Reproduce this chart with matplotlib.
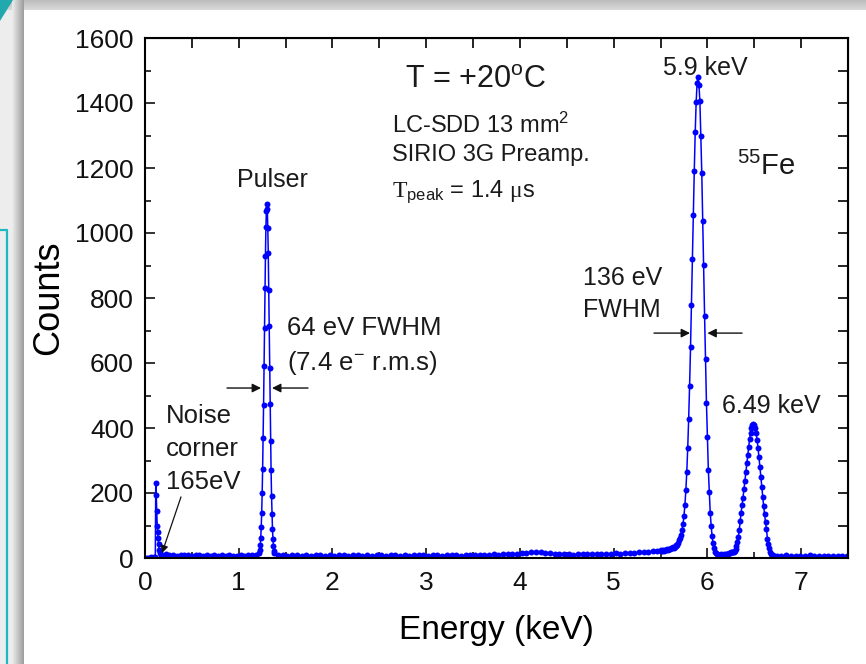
import numpy as np
import matplotlib
matplotlib.use("Agg")
import matplotlib.pyplot as plt
from matplotlib.patches import Rectangle, Polygon
from matplotlib.ticker import MultipleLocator

plt.rcParams['font.family'] = ['Liberation Sans', 'DejaVu Sans']
plt.rcParams['mathtext.fontset'] = 'custom'
plt.rcParams['mathtext.rm'] = 'Liberation Sans'
plt.rcParams['mathtext.it'] = 'Liberation Sans:italic'
plt.rcParams['mathtext.tt'] = 'Liberation Serif'

# --- spectrum (energy in keV, counts) ---
# noise corner
noise_e = [0.00, 0.02, 0.04, 0.06, 0.08, 0.10, 0.11, 0.115, 0.12, 0.125, 0.13,
           0.135, 0.14, 0.145, 0.15, 0.16, 0.17]
noise_c = [0, 1, 0, 2, 1, 3, 4, 230, 195, 145, 100, 80, 62, 42, 25, 14, 10]

# flat part before the pulser
base1_e = [0.18, 0.22, 0.26, 0.30, 0.34, 0.38, 0.42, 0.46, 0.50, 0.54, 0.58,
           0.62, 0.66, 0.70, 0.74, 0.78, 0.82, 0.86, 0.90, 0.94, 0.98, 1.02,
           1.06, 1.10, 1.14, 1.18]
base1_c = [9, 11, 8, 10, 7, 9, 8, 10, 6, 9, 8, 7, 9, 6, 8, 7, 9, 6, 8, 7, 6,
           8, 7, 9, 8, 10]

# pulser peak
pulser_e = [1.22, 1.225, 1.23, 1.235, 1.24, 1.245, 1.25, 1.255, 1.26, 1.265,
            1.27, 1.275, 1.28, 1.285, 1.29, 1.295, 1.30, 1.305, 1.31, 1.315,
            1.32, 1.325, 1.33, 1.335, 1.34, 1.345, 1.35, 1.355, 1.36, 1.365,
            1.37, 1.375, 1.38]
pulser_c = [14, 24, 40, 62, 95, 140, 200, 275, 368, 470, 592, 708, 830, 930,
            1020, 1068, 1090, 1074, 1015, 938, 825, 715, 585, 475, 360, 270,
            192, 135, 90, 58, 38, 22, 14]

# flat part between pulser and Mn K-alpha
base2_e = [1.42, 1.47, 1.52, 1.57, 1.62, 1.67, 1.72, 1.77, 1.82, 1.87, 1.92,
           1.97, 2.02, 2.07, 2.12, 2.17, 2.22, 2.27, 2.32, 2.37, 2.42, 2.47,
           2.52, 2.57, 2.62, 2.67, 2.72, 2.77, 2.82, 2.87, 2.92, 2.97, 3.02,
           3.07, 3.12, 3.17, 3.22, 3.27, 3.32, 3.37, 3.42, 3.47, 3.52, 3.57,
           3.62, 3.67, 3.72, 3.77, 3.82, 3.87, 3.92, 3.97, 4.02, 4.07, 4.12,
           4.17, 4.22, 4.27, 4.32, 4.37, 4.42, 4.47, 4.52, 4.57, 4.62, 4.67,
           4.72, 4.77, 4.82, 4.87, 4.92, 4.97, 5.02, 5.07, 5.12, 5.17, 5.22,
           5.27, 5.32, 5.37, 5.42, 5.46]
base2_c = [8, 10, 7, 9, 8, 6, 9, 7, 10, 8, 7, 9, 6, 8, 10, 7, 9, 8, 6, 9, 7,
           8, 10, 7, 8, 9, 6, 8, 7, 10, 8, 9, 7, 8, 9, 7, 10, 8, 9, 7, 8, 10,
           9, 8, 10, 9, 11, 10, 12, 11, 13, 12, 14, 16, 18, 17, 19, 16, 15,
           13, 12, 11, 12, 10, 11, 12, 11, 13, 12, 11, 13, 12, 14, 13, 15, 14,
           16, 17, 18, 19, 21, 22]

# Mn K-alpha 5.9 keV
mnka_e = [5.50, 5.51, 5.52, 5.53, 5.54, 5.55, 5.56, 5.57, 5.58, 5.59, 5.60,
          5.61, 5.62, 5.63, 5.64, 5.65, 5.66, 5.67, 5.68, 5.69, 5.70, 5.71,
          5.72, 5.73, 5.74, 5.75, 5.76, 5.77, 5.78, 5.79, 5.80, 5.81, 5.82,
          5.83, 5.84, 5.85, 5.86, 5.87, 5.88, 5.89, 5.90, 5.91, 5.92, 5.93,
          5.94, 5.95, 5.96, 5.97, 5.98, 5.99, 6.00, 6.01, 6.02, 6.03, 6.04,
          6.05, 6.06, 6.07, 6.08, 6.09, 6.10, 6.11, 6.12]
mnka_c = [22, 24, 21, 25, 23, 26, 24, 27, 26, 29, 28, 31, 30, 33, 31, 34, 36,
          39, 41, 45, 54, 62, 72, 87, 105, 130, 163, 208, 265, 338, 427, 530,
          648, 780, 920, 1056, 1192, 1310, 1402, 1462, 1480, 1455, 1405, 1300,
          1185, 1036, 902, 745, 612, 476, 372, 272, 204, 140, 100, 67, 45, 30,
          20, 15, 12, 10, 9]

# valley
valley_e = [6.13, 6.14, 6.15, 6.16, 6.17, 6.18, 6.19, 6.20, 6.21, 6.22, 6.23,
            6.24, 6.25, 6.26, 6.27]
valley_c = [9, 11, 8, 10, 9, 11, 10, 12, 11, 13, 14, 16, 18, 19, 20]

# Mn K-beta 6.49 keV
mnkb_e = [6.28, 6.29, 6.30, 6.31, 6.32, 6.33, 6.34, 6.35, 6.36, 6.37, 6.38,
          6.39, 6.40, 6.41, 6.42, 6.43, 6.44, 6.45, 6.46, 6.47, 6.48, 6.49,
          6.50, 6.51, 6.52, 6.53, 6.54, 6.55, 6.56, 6.57, 6.58, 6.59, 6.60,
          6.61, 6.62, 6.63, 6.64, 6.65, 6.66, 6.67, 6.68, 6.69, 6.70]
mnkb_c = [18, 22, 28, 38, 50, 66, 85, 115, 140, 162, 186, 212, 238, 265, 292,
          318, 343, 366, 385, 400, 410, 412, 409, 399, 384, 364, 339, 311, 281,
          250, 219, 189, 160, 134, 110, 89, 60, 42, 30, 20, 13, 9, 8]

# flat tail to the end
base3_e = [6.74, 6.79, 6.84, 6.89, 6.94, 6.99, 7.04, 7.09, 7.14, 7.19, 7.24,
           7.29, 7.34, 7.39, 7.44, 7.49]
base3_c = [7, 5, 8, 6, 7, 5, 6, 8, 5, 7, 6, 5, 7, 6, 5, 6]

energy = np.array(noise_e + base1_e + pulser_e + base2_e + mnka_e + valley_e
                  + mnkb_e + base3_e)
counts = np.array(noise_c + base1_c + pulser_c + base2_c + mnka_c + valley_c
                  + mnkb_c + base3_c)

fig = plt.figure(figsize=(8.66, 6.64), dpi=100)

# slide background behind the white panel
bg = fig.add_axes([0, 0, 1, 1])
bg.set_xlim(0, 866)
bg.set_ylim(664, 0)
bg.axis('off')
bg.add_patch(Rectangle((0, 0), 866, 664, color='#ededed', lw=0))
for i in range(10):
    g = 0.74 + 0.012 * i
    bg.add_patch(Rectangle((0, i), 866, 1, color=(g, g, g), lw=0))
for i in range(12):
    g = 0.92 - 0.027 * i
    bg.add_patch(Rectangle((12 + i, 0), 1, 664, color=(g, g, g), lw=0))
bg.add_patch(Polygon([[0, 0], [13, 0], [0, 21]], color='#22a9ad', lw=0))
bg.plot([0, 7, 7], [230, 230, 664], color='#1fb8c2', lw=1.6)
bg.add_patch(Rectangle((24, 10), 842, 654, color='white', lw=0))

ax = fig.add_axes([145 / 866, 106 / 664, 703 / 866, 520 / 664])
ax.plot(energy, counts, '-o', color='#0000ff', lw=1.1, ms=4.3, mew=0)

ax.set_xlim(0, 7.5)
ax.set_ylim(0, 1600)
ax.xaxis.set_major_locator(MultipleLocator(1))
ax.xaxis.set_minor_locator(MultipleLocator(0.5))
ax.yaxis.set_major_locator(MultipleLocator(200))
ax.yaxis.set_minor_locator(MultipleLocator(100))
ax.tick_params(which='both', direction='in', width=1.2, colors='#111111')
ax.tick_params(which='major', length=7.5, labelsize=19)
ax.tick_params(which='minor', length=4.3)
ax.tick_params(axis='x', pad=9)
ax.tick_params(axis='y', pad=8)
for s in ax.spines.values():
    s.set_linewidth(1.5)

# top / right ticks, all the same length
top = ax.secondary_xaxis('top')
top.xaxis.set_major_locator(MultipleLocator(0.5))
top.tick_params(direction='in', length=7, width=1.2, labeltop=False)
right = ax.secondary_yaxis('right')
right.yaxis.set_major_locator(MultipleLocator(100))
right.tick_params(direction='in', length=7, width=1.2, labelright=False)

ax.set_xlabel('Energy (keV)', fontsize=24)
ax.set_ylabel('Counts', fontsize=26)
ax.xaxis.set_label_coords(0.5, -0.11)
ax.yaxis.set_label_coords(-0.112, 0.5)

tc = '#1a1a1a'
ax.text(2.77, 1446, r'T = +20$^{\mathrm{o}}$C', fontsize=22, color=tc)
ax.text(2.635, 1308, r'LC-SDD 13 mm$^{2}$', fontsize=17, color=tc)
ax.text(2.635, 1222, 'SIRIO 3G Preamp.', fontsize=17, color=tc)
ax.text(2.635, 1111, r'$\mathtt{T}_{\mathrm{peak}}$ = 1.4 $\mathtt{\mu}$s',
        fontsize=17, color=tc)
ax.text(1.355, 1142, 'Pulser', fontsize=18, color=tc, ha='center')
ax.text(5.527, 1486, '5.9 keV', fontsize=18, color=tc)
ax.text(6.316, 1178, r'$^{55}$Fe', fontsize=21, color=tc)
ax.text(4.673, 840, '136 eV', fontsize=18, color=tc)
ax.text(4.673, 741, 'FWHM', fontsize=18, color=tc)
ax.text(1.515, 686, '64 eV FWHM', fontsize=18.5, color=tc)
ax.text(1.515, 578, r'(7.4 e$^{-}$ r.m.s)', fontsize=18.5, color=tc)
ax.text(6.156, 446, '6.49 keV', fontsize=18, color=tc)
ax.text(0.224, 415, 'Noise', fontsize=18.5, color=tc)
ax.text(0.224, 314, 'corner', fontsize=18.5, color=tc)
ax.text(0.224, 212, '165eV', fontsize=18.5, color=tc)

arrow = dict(arrowstyle='-|>', color='#111111', lw=1.0, mutation_scale=13,
             shrinkA=0, shrinkB=0)
ax.annotate('', xy=(5.815, 692), xytext=(5.43, 692), arrowprops=arrow)
ax.annotate('', xy=(6.0, 692), xytext=(6.37, 692), arrowprops=arrow)
ax.annotate('', xy=(1.238, 523), xytext=(0.875, 523), arrowprops=arrow)
ax.annotate('', xy=(1.355, 523), xytext=(1.739, 523), arrowprops=arrow)
ax.annotate('', xy=(0.181, 15), xytext=(0.384, 188),
            arrowprops=dict(arrowstyle='-|>', color='#111111', lw=0.9,
                            mutation_scale=11, shrinkA=0, shrinkB=0))

fig.savefig('out.png', dpi=100)
